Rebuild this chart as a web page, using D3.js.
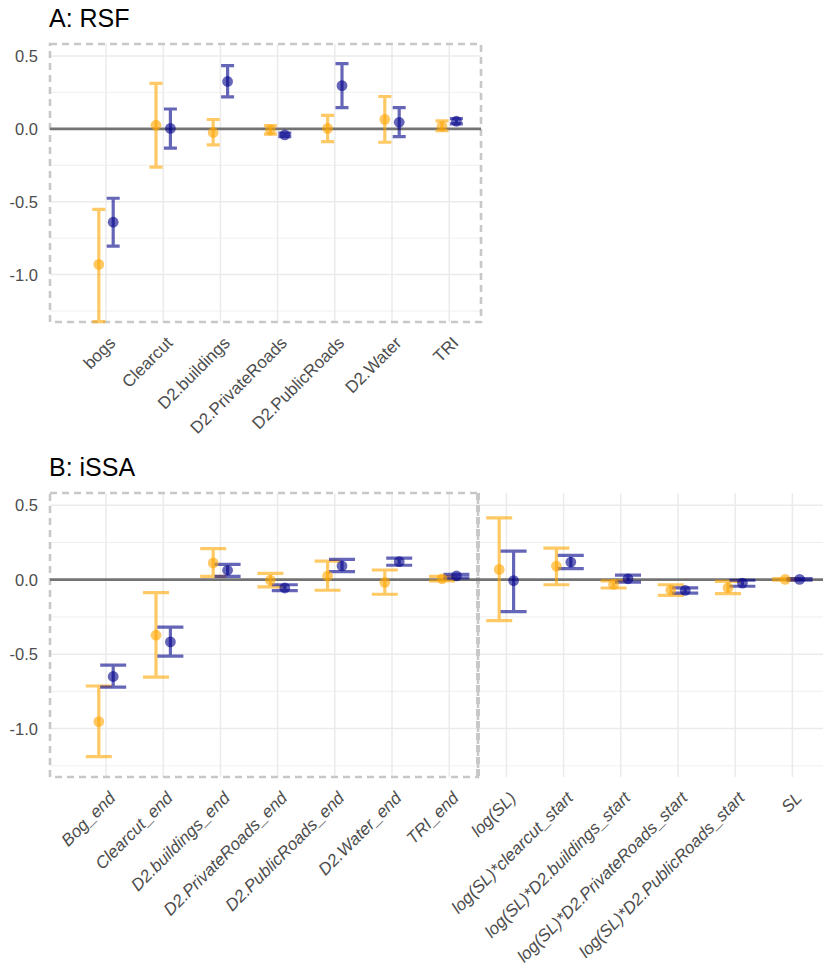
<!DOCTYPE html>
<!-- Coefficient plot, RSF and iSSA estimates with confidence intervals -->
<meta charset="utf-8">
<style>
 body { margin: 0; background: #fff; }
 svg { font-family: "Liberation Sans", Arial, sans-serif; }
 .grid line { stroke: #ebebeb; }
 .tick text { fill: #4d4d4d; }
 .title { font-size: 25px; fill: #000; }
</style>

<svg class="chart"></svg>

<script src="https://cdn.jsdelivr.net/npm/d3@7"></script>

<script>

 // ---- panel A: RSF ----
 var rsfTerms = ["bogs", "Clearcut", "D2.buildings", "D2.PrivateRoads", "D2.PublicRoads", "D2.Water", "TRI"];
 var rsfOrangeEst = [-0.93, 0.025, -0.025, -0.008, 0.003, 0.065, 0.018];
 var rsfOrangeLo  = [-1.323, -0.263, -0.11, -0.036, -0.088, -0.092, -0.012];
 var rsfOrangeHi  = [-0.553, 0.312, 0.064, 0.022, 0.092, 0.222, 0.054];
 var rsfBlueEst   = [-0.64, 0.003, 0.325, -0.042, 0.296, 0.045, 0.052];
 var rsfBlueLo    = [-0.805, -0.132, 0.219, -0.054, 0.146, -0.054, 0.034];
 var rsfBlueHi    = [-0.476, 0.136, 0.434, -0.03, 0.448, 0.146, 0.07];

 // ---- panel B: iSSA ----
 var issaTerms = ["Bog_end", "Clearcut_end", "D2.buildings_end", "D2.PrivateRoads_end", "D2.PublicRoads_end",
                  "D2.Water_end", "TRI_end", "log(SL)", "log(SL)*clearcut_start", "log(SL)*D2.buildings_start",
                  "log(SL)*D2.PrivateRoads_start", "log(SL)*D2.PublicRoads_start", "SL"];
 var issaOrangeEst = [-0.953, -0.373, 0.112, -0.004, 0.025, -0.018, 0.006, 0.069, 0.091, -0.032, -0.07, -0.054, 0.002];
 var issaOrangeLo  = [-1.188, -0.654, 0.022, -0.049, -0.071, -0.098, -0.009, -0.275, -0.034, -0.056, -0.105, -0.094, -0.004];
 var issaOrangeHi  = [-0.714, -0.087, 0.208, 0.042, 0.125, 0.065, 0.022, 0.415, 0.212, -0.008, -0.034, -0.011, 0.007];
 var issaBlueEst   = [-0.65, -0.418, 0.063, -0.056, 0.092, 0.121, 0.025, -0.006, 0.118, 0.006, -0.072, -0.023, 0.002];
 var issaBlueLo    = [-0.721, -0.513, 0.022, -0.074, 0.054, 0.097, 0.012, -0.214, 0.074, -0.016, -0.09, -0.044, -0.004];
 var issaBlueHi    = [-0.574, -0.319, 0.103, -0.034, 0.136, 0.145, 0.036, 0.192, 0.163, 0.03, -0.055, -0.004, 0.007];

 var yTicks = [-1.0, -0.5, 0.0, 0.5];
 var yMinor = [-1.25, -0.75, -0.25, 0.25];
 var yDomain = [-1.325, 0.582];

 var seriesColor = { orange: "#ffa500", blue: "#00008b" };

 var svg = d3.select(".chart").attr("width", 823).attr("height", 966);

 function build(terms, oEst, oLo, oHi, bEst, bLo, bHi) {
     var rows = [];
     terms.forEach(function(t, i) {
         rows.push({ term: t, series: "orange", est: oEst[i], lo: oLo[i], hi: oHi[i] });
         rows.push({ term: t, series: "blue", est: bEst[i], lo: bLo[i], hi: bHi[i] });
     });
     return rows;
 }

 function panel(opt) {
     var g = svg.append("g");
     var x = d3.scalePoint().domain(opt.terms).range([106, 106 + (opt.terms.length - 1) * 57.2]);
     var dodge = d3.scalePoint().domain(["orange", "blue"]).range([-7.2, 7.2]);
     var y = d3.scaleLinear().domain(yDomain).range([opt.bottom, opt.top]);

     g.append("text").attr("class", "title").attr("x", 49).attr("y", opt.top - 17).text(opt.title);

     var grid = g.append("g").attr("class", "grid");
     grid.selectAll(".minor").data(yMinor).enter().append("line")
         .attr("x1", opt.left).attr("x2", opt.right)
         .attr("y1", function(d) { return y(d); }).attr("y2", function(d) { return y(d); })
         .attr("stroke-width", 0.8);
     grid.selectAll(".major").data(yTicks).enter().append("line")
         .attr("x1", opt.left).attr("x2", opt.right)
         .attr("y1", function(d) { return y(d); }).attr("y2", function(d) { return y(d); })
         .attr("stroke-width", 1.5);
     grid.selectAll(".vert").data(opt.terms).enter().append("line")
         .attr("x1", function(d) { return x(d); }).attr("x2", function(d) { return x(d); })
         .attr("y1", opt.top).attr("y2", opt.bottom)
         .attr("stroke-width", 1.5);

     // dashed box
     g.append("rect")
      .attr("x", opt.left).attr("y", opt.top)
      .attr("width", opt.boxRight - opt.left).attr("height", opt.bottom - opt.top)
      .attr("fill", "none").attr("stroke", "#c8c8c8").attr("stroke-width", 2.6)
      .attr("stroke-dasharray", "7,5");
     if (opt.split) {
         g.append("line")
          .attr("x1", opt.boxRight).attr("x2", opt.boxRight)
          .attr("y1", opt.top).attr("y2", opt.bottom)
          .attr("stroke", "#c8c8c8").attr("stroke-width", 4).attr("stroke-dasharray", "7,5");
     }

     // zero line
     g.append("line")
      .attr("x1", opt.left).attr("x2", opt.right)
      .attr("y1", y(0)).attr("y2", y(0))
      .attr("stroke", "#737373").attr("stroke-width", 2.6);

     var rows = build(opt.terms, opt.oEst, opt.oLo, opt.oHi, opt.bEst, opt.bLo, opt.bHi);
     var cx = function(d) { return x(d.term) + dodge(d.series); };
     var hw = opt.cap / 2;

     var bars = g.append("g").selectAll("g").data(rows).enter().append("g")
         .attr("stroke", function(d) { return seriesColor[d.series]; })
         .attr("stroke-opacity", 0.6).attr("stroke-width", 3.2).attr("fill", "none");
     bars.append("path").attr("d", function(d) {
         var c = cx(d);
         return "M" + (c - hw) + "," + y(d.hi) + "H" + (c + hw)
              + "M" + c + "," + y(d.hi) + "V" + y(d.lo)
              + "M" + (c - hw) + "," + y(d.lo) + "H" + (c + hw);
     });

     g.append("g").selectAll("circle").data(rows).enter().append("circle")
      .attr("cx", cx).attr("cy", function(d) { return y(d.est); })
      .attr("r", 5.4)
      .attr("fill", function(d) { return seriesColor[d.series]; })
      .attr("fill-opacity", 0.6);

     // axes
     var ya = g.append("g").attr("transform", "translate(" + opt.left + ",0)")
               .call(d3.axisLeft(y).tickValues(yTicks).tickSize(0).tickPadding(12)
                     .tickFormat(function(d) { return d.toFixed(1); }));
     ya.select(".domain").remove();
     ya.selectAll("text").attr("font-size", 16.5).attr("dy", "0.35em")
       .attr("font-family", "Liberation Sans, Arial, sans-serif");

     var xa = g.append("g").attr("transform", "translate(0," + opt.bottom + ")")
               .call(d3.axisBottom(x).tickSize(0));
     xa.select(".domain").remove();
     xa.selectAll("text")
       .attr("y", 0).attr("dy", 0)
       .attr("transform", "translate(10,22) rotate(-45)")
       .attr("text-anchor", "end")
       .attr("font-size", opt.labelSize)
       .attr("font-style", opt.italic ? "italic" : "normal")
       .attr("font-family", "Liberation Sans, Arial, sans-serif");
 }

 panel({ title: "A: RSF", terms: rsfTerms, top: 44, bottom: 322, left: 50, right: 481, boxRight: 481,
         cap: 13, split: false, italic: false, labelSize: 17,
         oEst: rsfOrangeEst, oLo: rsfOrangeLo, oHi: rsfOrangeHi,
         bEst: rsfBlueEst, bLo: rsfBlueLo, bHi: rsfBlueHi });

 panel({ title: "B: iSSA", terms: issaTerms, top: 493, bottom: 777, left: 50, right: 823, boxRight: 478,
         cap: 26, split: true, italic: true, labelSize: 17,
         oEst: issaOrangeEst, oLo: issaOrangeLo, oHi: issaOrangeHi,
         bEst: issaBlueEst, bLo: issaBlueLo, bHi: issaBlueHi });

</script>
